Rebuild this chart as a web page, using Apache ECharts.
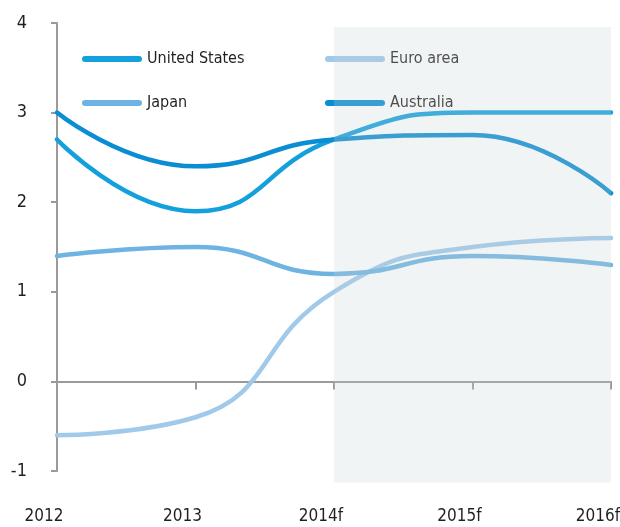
<!DOCTYPE html>
<html>
<head>
<meta charset="utf-8">
<script src="https://cdn.jsdelivr.net/npm/echarts@6/dist/echarts.min.js"></script>
<style>
  html, body { margin: 0; padding: 0; background: #ffffff; }
  #chart { width: 620px; height: 527px; }
</style>
</head>
<body>
<div id="chart"></div>
<script>
// GDP growth, per cent; 2014 onward are forecasts
const years = ['2012', '2013', '2014f', '2015f', '2016f'];
const unitedStates = [2.7, 1.9, 2.7, 3.0, 3.0];
const euroArea = [-0.6, -0.4, 1.0, 1.5, 1.6];
const japan = [1.4, 1.5, 1.2, 1.4, 1.3];
const australia = [3.0, 2.4, 2.7, 2.75, 2.1];
const yTicks = { min: -1, max: 4, step: 1 };
// forecast band: from the first forecast year to the last, spanning the plot height
const forecastBand = [[2, 3.955, 4, -1.128]];

const FONT = "'Liberation Sans Narrow', 'DejaVu Sans Condensed', 'Roboto Condensed', sans-serif";
const INK = '#231f20';
const AXIS = '#9a9a9c';
const pill = 'path://M3,0 H57 A3,3 0 0 1 57,6 H3 A3,3 0 0 1 3,0 Z';

function lineSeries(name, data, color) {
  return {
    name: name,
    type: 'line',
    data: data,
    smooth: 0.5,
    symbol: 'none',
    color: color,
    lineStyle: { width: 4.5, color: color, cap: 'round' },
    z: 2
  };
}

const legendCommon = {
  orient: 'vertical',
  icon: pill,
  itemWidth: 60,
  itemHeight: 6,
  itemGap: 24,
  selectedMode: false,
  textStyle: { fontFamily: FONT, fontSize: 16, color: INK, lineHeight: 20, padding: [0, 0, 0, 0] },
  z: 3
};

const chart = echarts.init(document.getElementById('chart'), null, { renderer: 'canvas' });
chart.setOption({
  animation: false,
  backgroundColor: '#ffffff',
  grid: { left: 57, right: 9, top: 23, bottom: 56, containLabel: false, outerBoundsMode: 'none' },
  legend: [
    Object.assign({}, legendCommon, { left: 77, top: 44, data: ['United States', 'Japan'] }),
    Object.assign({}, legendCommon, { left: 320, top: 44, data: ['Euro area', 'Australia'] })
  ],
  xAxis: {
    type: 'category',
    data: years,
    boundaryGap: false,
    axisLine: { onZero: true, lineStyle: { color: AXIS, width: 2 } },
    axisTick: { show: true, length: 8, lineStyle: { color: AXIS, width: 2 } },
    axisLabel: {
      margin: 37,
      fontFamily: FONT,
      fontSize: 17,
      color: INK,
      padding: [0, 26, 0, 0],
      showMinLabel: true,
      showMaxLabel: true
    },
    splitLine: { show: false }
  },
  yAxis: {
    type: 'value',
    min: yTicks.min,
    max: yTicks.max,
    interval: yTicks.step,
    axisLine: { show: true, lineStyle: { color: AXIS, width: 2 } },
    axisTick: { show: true, length: 6, lineStyle: { color: AXIS, width: 2 } },
    axisLabel: { margin: 30, fontFamily: FONT, fontSize: 18, color: INK },
    splitLine: { show: false }
  },
  series: [
    lineSeries('United States', unitedStates, '#14a0dc'),
    lineSeries('Euro area', euroArea, '#a0c9ea'),
    lineSeries('Japan', japan, '#6fb3e2'),
    lineSeries('Australia', australia, '#0b8dd3'),
    {
      // translucent veil over the forecast years
      type: 'custom',
      name: 'forecast',
      data: forecastBand,
      encode: { x: [0, 2], y: [1, 3] },
      clip: false,
      silent: true,
      z: 10,
      renderItem: function (params, api) {
        const a = api.coord([api.value(0), api.value(1)]);
        const b = api.coord([api.value(2), api.value(3)]);
        return {
          type: 'rect',
          shape: { x: a[0], y: a[1], width: b[0] - a[0], height: b[1] - a[1] },
          style: { fill: 'rgba(200,210,212,0.25)' }
        };
      }
    }
  ]
});
</script>
</body>
</html>
